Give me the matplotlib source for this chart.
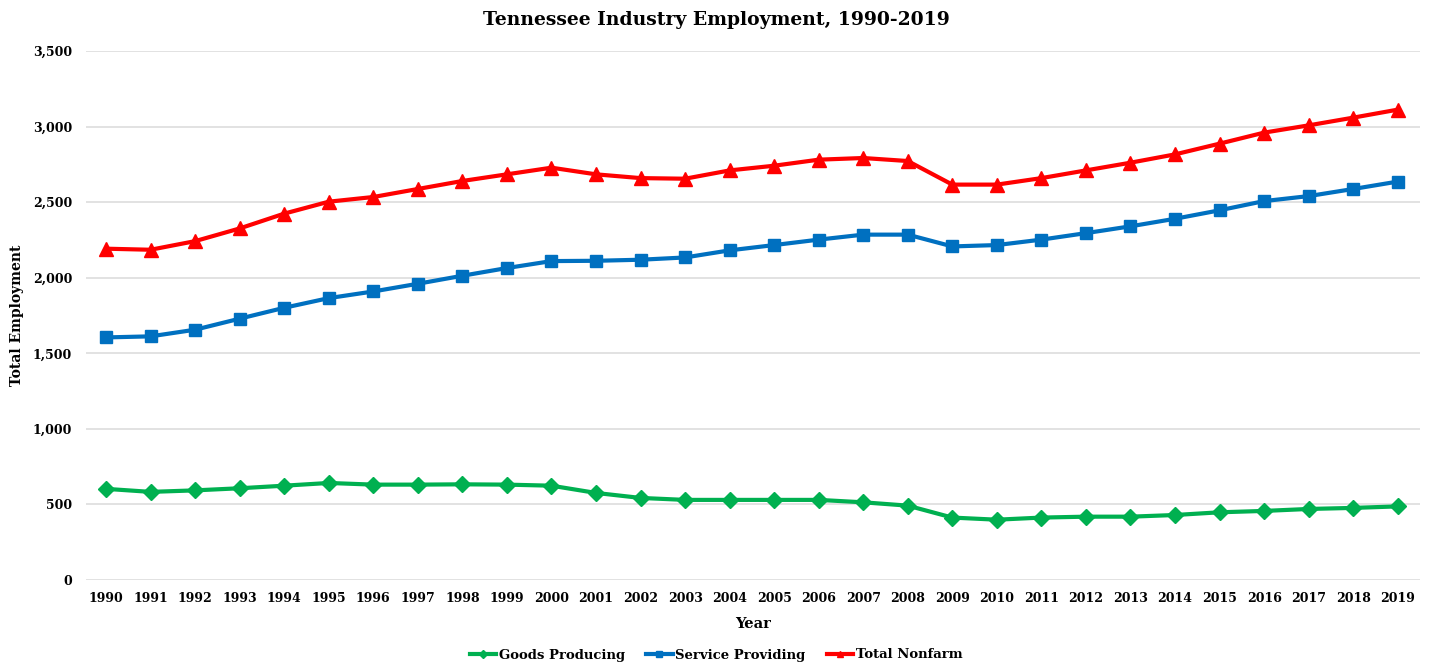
import matplotlib
matplotlib.use("Agg")
import matplotlib.pyplot as plt
from matplotlib.ticker import FuncFormatter, MultipleLocator

years = list(range(1990, 2020))
goods = [603, 583, 593, 607, 624, 642, 631, 631, 633, 631, 624, 576, 543, 530,
         530, 530, 530, 514, 492, 413, 399, 413, 419, 419, 430, 448, 457, 470, 477, 487]
service = [1605, 1612, 1656, 1729, 1801, 1865, 1909, 1960, 2013, 2064, 2110, 2112, 2119, 2134,
           2181, 2216, 2252, 2285, 2285, 2207, 2216, 2252, 2295, 2340, 2390, 2446, 2507, 2540, 2587, 2636]
total = [2192, 2185, 2242, 2326, 2424, 2503, 2534, 2587, 2640, 2684, 2728, 2684, 2659, 2655,
         2710, 2741, 2781, 2792, 2772, 2616, 2616, 2659, 2710, 2761, 2816, 2887, 2960, 3008, 3059, 3112]

plt.rcParams['font.family'] = ['DejaVu Serif']
plt.rcParams['font.weight'] = 'bold'

fig = plt.figure(figsize=(14.32, 6.62), dpi=100)
ax = fig.add_axes([86/1432, 1-580/662, (1420-86)/1432, (580-51)/662])

x = list(range(len(years)))
ax.plot(x, goods, color='#00B050', lw=3, marker='D', ms=8, label='Goods Producing')
ax.plot(x, service, color='#0070C0', lw=3, marker='s', ms=9, label='Service Providing')
ax.plot(x, total, color='#FF0000', lw=3, marker='^', ms=10, label='Total Nonfarm')

ax.set_xlim(-0.45, 29.5)
ax.set_ylim(0, 3500)
ax.yaxis.set_major_locator(MultipleLocator(500))
ax.yaxis.set_major_formatter(FuncFormatter(lambda v, p: f"{int(v):,}"))
ax.set_xticks(x)
ax.set_xticklabels([str(y) for y in years])
ax.grid(axis='y', color='#DDDDDD', lw=1.2)
ax.set_axisbelow(True)
for s in ax.spines.values():
    s.set_visible(False)
ax.tick_params(axis='both', length=0, labelsize=9)
ax.tick_params(axis='y', pad=10)
ax.tick_params(axis='x', pad=9)

fig.text(716/1432, 1-20/662, 'Tennessee Industry Employment, 1990-2019', fontsize=13.5,
         fontweight='bold', ha='center', va='center')
ax.set_xlabel('Year', fontsize=10.5, fontweight='bold', labelpad=8)
ax.set_ylabel('Total Employment', fontsize=10, fontweight='bold')
ax.yaxis.set_label_coords(-62/1334, 0.5)

leg = fig.legend(loc='center', bbox_to_anchor=(716/1432, 1-655/662), ncol=3, frameon=False,
                 fontsize=9.5, markerscale=0.5, handlelength=2.0, columnspacing=1.6, handletextpad=0.2)

fig.savefig('out.png', dpi=100)
